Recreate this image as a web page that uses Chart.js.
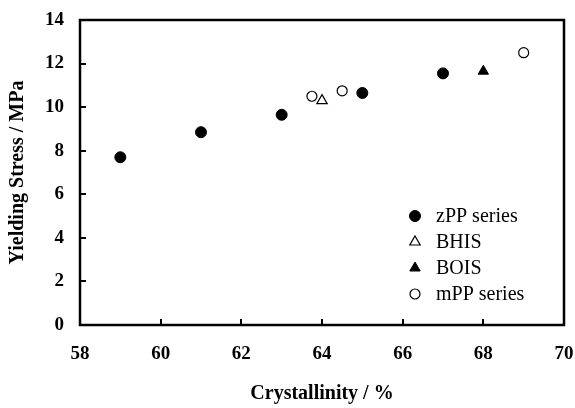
<!DOCTYPE html>
<html>
<head>
<meta charset="utf-8">
<script src="https://cdn.jsdelivr.net/npm/chart.js@4/dist/chart.umd.min.js"></script>
<style>
  html, body { margin: 0; padding: 0; background: #fff; }
  #wrap { width: 575px; height: 408px; }
</style>
</head>
<body>
<div id="wrap"><canvas id="stressChart"></canvas></div>
<script>
// crystallinity (%) vs yielding stress (MPa)
const zppX = [59, 61, 63, 65, 67];
const zppY = [7.7, 8.85, 9.65, 10.65, 11.55];
const bhisX = [64];
const bhisY = [10.3];
const boisX = [68];
const boisY = [11.65];
const mppX = [63.75, 64.5, 69];
const mppY = [10.5, 10.75, 12.5];

const xMin = 58, xMax = 70, xStep = 2;
const yMin = 0, yMax = 14, yStep = 2;

const serif = "'Liberation Serif', 'Times New Roman', serif";

function toPoints(xs, ys) {
    const pts = [];
    for (let i = 0; i < xs.length; i++) {
        pts.push({ x: xs[i], y: ys[i] });
    }
    return pts;
}

// box around the plot plus short inward tick marks
const framePlugin = {
    id: 'frame',
    afterDraw(chart) {
        const ctx = chart.ctx;
        const a = chart.chartArea;
        const xs = chart.scales.x;
        const ys = chart.scales.y;
        ctx.save();
        ctx.strokeStyle = '#000';
        ctx.lineWidth = 2;
        ctx.beginPath();
        xs.ticks.forEach(t => {
            if (t.value <= xMin || t.value >= xMax) return;
            const px = Math.round(xs.getPixelForValue(t.value));
            ctx.moveTo(px, a.bottom);
            ctx.lineTo(px, a.bottom - 6);
        });
        ys.ticks.forEach(t => {
            if (t.value <= yMin || t.value >= yMax) return;
            const py = Math.round(ys.getPixelForValue(t.value));
            ctx.moveTo(a.left, py);
            ctx.lineTo(a.left + 6, py);
        });
        ctx.stroke();
        ctx.lineWidth = 2.5;
        ctx.strokeRect(a.left, a.top, a.right - a.left, a.bottom - a.top);
        ctx.restore();
    }
};

// legend sitting inside the lower right of the plot
const insideLegend = {
    id: 'insideLegend',
    afterDraw(chart) {
        const ctx = chart.ctx;
        const a = chart.chartArea;
        const mx = a.left + 335;
        const tx = a.left + 356;
        let y = a.top + 196;
        ctx.save();
        ctx.font = '20px ' + serif;
        ctx.textBaseline = 'middle';
        ctx.textAlign = 'left';
        chart.data.datasets.forEach(ds => {
            ctx.fillStyle = ds.backgroundColor;
            ctx.strokeStyle = ds.borderColor;
            ctx.lineWidth = ds.borderWidth;
            Chart.helpers.drawPoint(ctx, {
                pointStyle: ds.pointStyle,
                radius: ds.pointRadius,
                rotation: 0,
                borderWidth: ds.borderWidth
            }, mx, y);
            ctx.fillStyle = '#000';
            ctx.fillText(ds.label, tx, y + 1);
            y += 26;
        });
        ctx.restore();
    }
};

new Chart(document.getElementById('stressChart'), {
    type: 'scatter',
    data: {
        datasets: [
            {
                label: 'zPP series',
                data: toPoints(zppX, zppY),
                pointStyle: 'circle',
                pointRadius: 5.5,
                backgroundColor: '#000',
                borderColor: '#000',
                borderWidth: 1
            },
            {
                label: 'BHIS',
                data: toPoints(bhisX, bhisY),
                pointStyle: 'triangle',
                pointRadius: 6,
                backgroundColor: '#fff',
                borderColor: '#000',
                borderWidth: 1.2
            },
            {
                label: 'BOIS',
                data: toPoints(boisX, boisY),
                pointStyle: 'triangle',
                pointRadius: 6,
                backgroundColor: '#000',
                borderColor: '#000',
                borderWidth: 1
            },
            {
                label: 'mPP series',
                data: toPoints(mppX, mppY),
                pointStyle: 'circle',
                pointRadius: 5,
                backgroundColor: '#fff',
                borderColor: '#000',
                borderWidth: 1.2
            }
        ]
    },
    options: {
        responsive: true,
        maintainAspectRatio: false,
        animation: false,
        layout: { padding: { top: 20, right: 11, left: 0, bottom: 0 } },
        plugins: {
            legend: { display: false },
            tooltip: { enabled: false }
        },
        scales: {
            x: {
                type: 'linear',
                min: xMin,
                max: xMax,
                grid: { display: false, drawTicks: false },
                border: { display: false },
                ticks: {
                    stepSize: xStep,
                    padding: 18,
                    color: '#000',
                    font: { family: serif, size: 19, weight: 'bold' }
                },
                title: {
                    display: true,
                    text: 'Crystallinity / %',
                    color: '#000',
                    padding: { top: 0, bottom: 2 },
                    font: { family: serif, size: 20, weight: 'bold' }
                },
                afterFit(scale) {
                    scale.height = 83;
                    scale.paddingLeft = 0;
                    scale.paddingRight = 0;
                }
            },
            y: {
                type: 'linear',
                min: yMin,
                max: yMax,
                grid: { display: false, drawTicks: false },
                border: { display: false },
                ticks: {
                    stepSize: yStep,
                    padding: 16,
                    color: '#000',
                    font: { family: serif, size: 19, weight: 'bold' }
                },
                title: {
                    display: true,
                    text: 'Yielding Stress / MPa',
                    color: '#000',
                    padding: { top: 6, bottom: 0 },
                    font: { family: serif, size: 20, weight: 'bold' }
                },
                afterFit(scale) {
                    scale.width = 80;
                    scale.paddingTop = 0;
                    scale.paddingBottom = 0;
                }
            }
        }
    },
    plugins: [framePlugin, insideLegend]
});
</script>
</body>
</html>
